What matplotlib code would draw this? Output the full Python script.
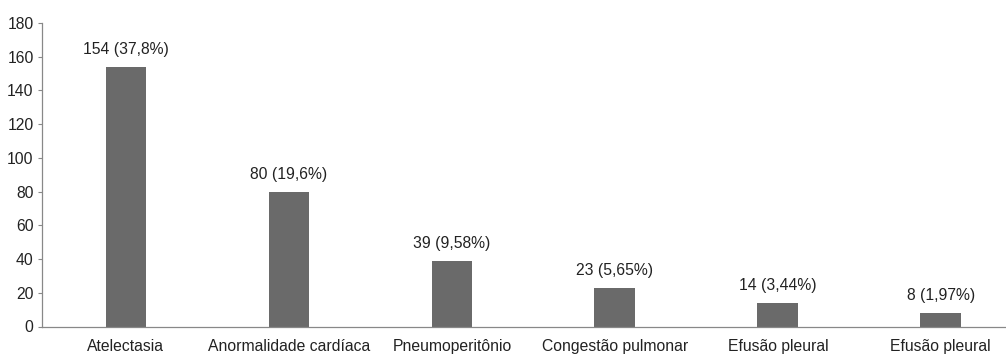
import matplotlib
matplotlib.use("Agg")
import matplotlib.pyplot as plt

categories = ["Atelectasia", "Anormalidade cardíaca", "Pneumoperitônio",
              "Congestão pulmonar", "Efusão pleural", "Efusão pleural"]
counts = [154, 80, 39, 23, 14, 8]
percents = ["37,8%", "19,6%", "9,58%", "5,65%", "3,44%", "1,97%"]
yticks = [0, 20, 40, 60, 80, 100, 120, 140, 160, 180]

plt.rcParams["font.family"] = ["Liberation Sans", "DejaVu Sans"]
FS = 11.3

W, H = 1006, 355
left_px, base_px, top_px = 42, 326.5, 23
fig = plt.figure(figsize=(W / 100, H / 100), dpi=100)
ax = fig.add_axes([left_px / W, (H - base_px) / H, 1 - left_px / W,
                   (base_px - top_px) / H])

x = list(range(len(categories)))
ax.bar(x, counts, width=0.25, color="#6a6a6a", zorder=2)

for xi, c, p in zip(x, counts, percents):
    ax.annotate(f"{c} ({p})", xy=(xi, c), xytext=(0, 7),
                textcoords="offset points", ha="center", va="bottom",
                fontsize=FS, color="#222222")

ax.set_xlim(-0.515, 5.4)
ax.set_ylim(0, 180)
ax.set_yticks(yticks)
ax.set_xticks(x)
ax.set_xticklabels(categories, fontsize=FS, color="#222222")
ax.tick_params(axis="x", length=0, pad=9)
ax.tick_params(axis="y", length=3, width=0.8, color="#888888",
               labelsize=FS, labelcolor="#222222", pad=3)

for side in ("top", "right"):
    ax.spines[side].set_visible(False)
for side in ("left", "bottom"):
    ax.spines[side].set_color("#888888")
    ax.spines[side].set_linewidth(0.9)

fig.savefig("out.png", dpi=100)
